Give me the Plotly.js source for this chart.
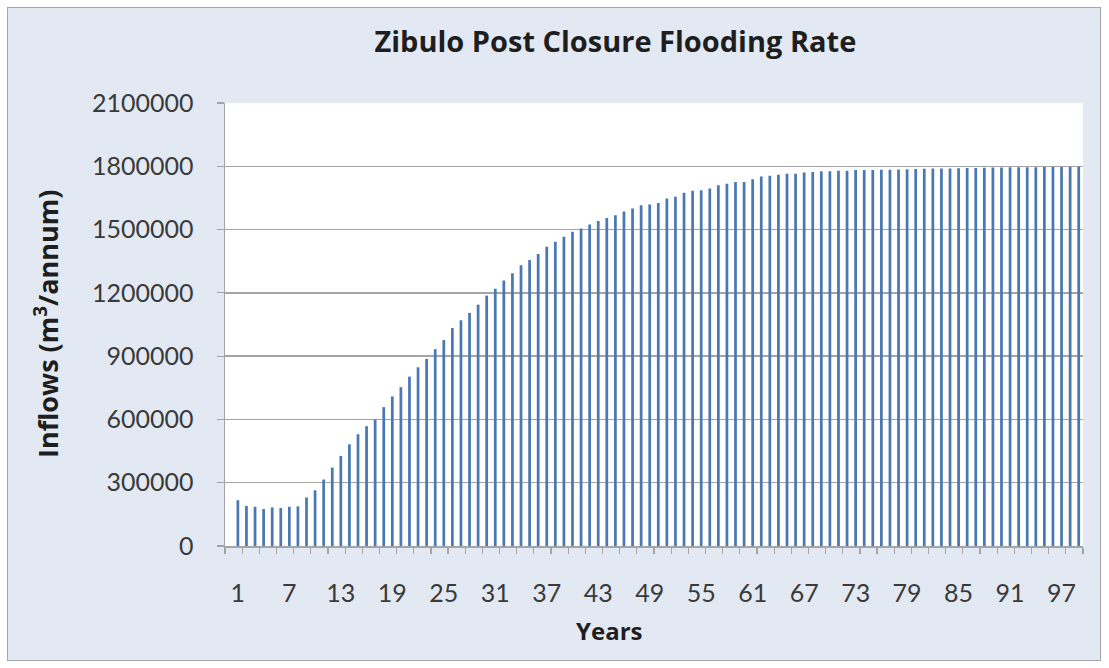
<!DOCTYPE html>
<html>
<head>
<meta charset="utf-8">
<script src="https://cdn.plot.ly/plotly-3.0.1.min.js"></script>
<style>
  html, body { margin: 0; padding: 0; background: #ffffff; }
  #chart {
    position: absolute; left: 7px; top: 7px;
    width: 1094px; height: 654px;
    box-sizing: border-box;
    border: 1px solid #a3a6ab;
  }
</style>
</head>
<body>
<div id="chart"></div>
<script>
// Annual post-closure inflow, years 1..99 (m3/annum)
const years = [
  1, 2, 3, 4, 5, 6, 7, 8, 9, 10,
  11, 12, 13, 14, 15, 16, 17, 18, 19, 20,
  21, 22, 23, 24, 25, 26, 27, 28, 29, 30,
  31, 32, 33, 34, 35, 36, 37, 38, 39, 40,
  41, 42, 43, 44, 45, 46, 47, 48, 49, 50,
  51, 52, 53, 54, 55, 56, 57, 58, 59, 60,
  61, 62, 63, 64, 65, 66, 67, 68, 69, 70,
  71, 72, 73, 74, 75, 76, 77, 78, 79, 80,
  81, 82, 83, 84, 85, 86, 87, 88, 89, 90,
  91, 92, 93, 94, 95, 96, 97, 98, 99
];
const inflows = [
  217000, 190000, 186000, 175000, 183000, 180000, 186000, 188000, 230000, 264000,
  315000, 372000, 427000, 482000, 530000, 568000, 600000, 658000, 709000, 753000,
  803000, 847000, 887000, 933000, 976000, 1033000, 1070000, 1105000, 1144000, 1187000,
  1220000, 1258000, 1293000, 1331000, 1356000, 1384000, 1418000, 1442000, 1466000, 1490000,
  1505000, 1524000, 1541000, 1555000, 1568000, 1586000, 1600000, 1615000, 1619000, 1626000,
  1647000, 1656000, 1675000, 1684000, 1686000, 1695000, 1710000, 1717000, 1725000, 1725000,
  1739000, 1752000, 1755000, 1760000, 1765000, 1765000, 1771000, 1773000, 1776000, 1776000,
  1779000, 1779000, 1782000, 1782000, 1782000, 1784000, 1784000, 1785000, 1786000, 1787000,
  1788000, 1789000, 1790000, 1790000, 1791000, 1792000, 1792000, 1793000, 1794000, 1794000,
  1795000, 1795000, 1796000, 1796000, 1797000, 1797000, 1797000, 1798000, 1798000
];
const yearTicks = [1, 7, 13, 19, 25, 31, 37, 43, 49, 55, 61, 67, 73, 79, 85, 91, 97];
const inflowTicks = [0, 300000, 600000, 900000, 1200000, 1500000, 1800000, 2100000];

const chartTitle = 'Zibulo Post Closure Flooding Rate';
const xTitle = 'Years';
const yTitle = 'Inflows (m<sup>3</sup>/annum)';

const FONT = 'Lato, "Open Sans", sans-serif';
const TITLE_FONT = '"Open Sans", Lato, sans-serif';
const GRID = '#a2a4a8';

const trace = {
  type: 'bar',
  x: years,
  y: inflows,
  width: 0.32,
  marker: { color: '#4a78b2', line: { width: 0 } },
  hoverinfo: 'x+y'
};

const layout = {
  width: 1092,
  height: 652,
  margin: { l: 217, r: 17, t: 95, b: 114, pad: 0 },
  paper_bgcolor: '#e3e9f2',
  plot_bgcolor: '#ffffff',
  showlegend: false,
  font: { family: FONT, color: '#3a3a3a' },
  title: {
    text: '<b>' + chartTitle + '</b>',
    font: { family: TITLE_FONT, size: 29, color: '#1e1e1e' },
    xref: 'paper', x: 0.455, xanchor: 'center',
    yref: 'container', y: 0.948, yanchor: 'middle'
  },
  xaxis: {
    type: 'linear',
    range: [-0.5, 99.5],
    tickmode: 'array',
    tickvals: yearTicks,
    ticktext: yearTicks.map(String),
    ticks: '',
    ticklabelstandoff: 24,
    tickfont: { family: FONT, size: 25, color: '#3a3a3a' },
    showgrid: false,
    zeroline: false,
    showline: true,
    linecolor: GRID,
    linewidth: 1.5,
    minor: {
      tickmode: 'linear', tick0: -0.5, dtick: 2,
      ticks: 'outside', ticklen: 6, tickwidth: 1.2, tickcolor: GRID,
      showgrid: false
    },
    fixedrange: true
  },
  yaxis: {
    range: [0, 2100000],
    tickmode: 'array',
    tickvals: inflowTicks,
    ticktext: inflowTicks.map(String),
    ticks: 'outside',
    ticklen: 7,
    tickwidth: 1.2,
    tickcolor: GRID,
    ticklabelstandoff: 18,
    tickfont: { family: FONT, size: 25, color: '#3a3a3a' },
    showgrid: true,
    gridcolor: GRID,
    gridwidth: 1.5,
    zeroline: false,
    showline: true,
    linecolor: GRID,
    linewidth: 1.5,
    fixedrange: true
  },
  annotations: [
    {
      text: '<b>' + xTitle + '</b>',
      xref: 'paper', yref: 'paper',
      x: 0.4476, y: -0.19, xanchor: 'center', yanchor: 'middle',
      showarrow: false,
      font: { family: TITLE_FONT, size: 24, color: '#1e1e1e' }
    },
    {
      text: '<b>' + yTitle + '</b>',
      xref: 'paper', yref: 'paper',
      x: -0.208, y: 0.5, xanchor: 'center', yanchor: 'middle',
      textangle: -90,
      showarrow: false,
      font: { family: TITLE_FONT, size: 27, color: '#1e1e1e' }
    }
  ]
};

Plotly.newPlot('chart', [trace], layout, { displayModeBar: false, staticPlot: true });
</script>
</body>
</html>
